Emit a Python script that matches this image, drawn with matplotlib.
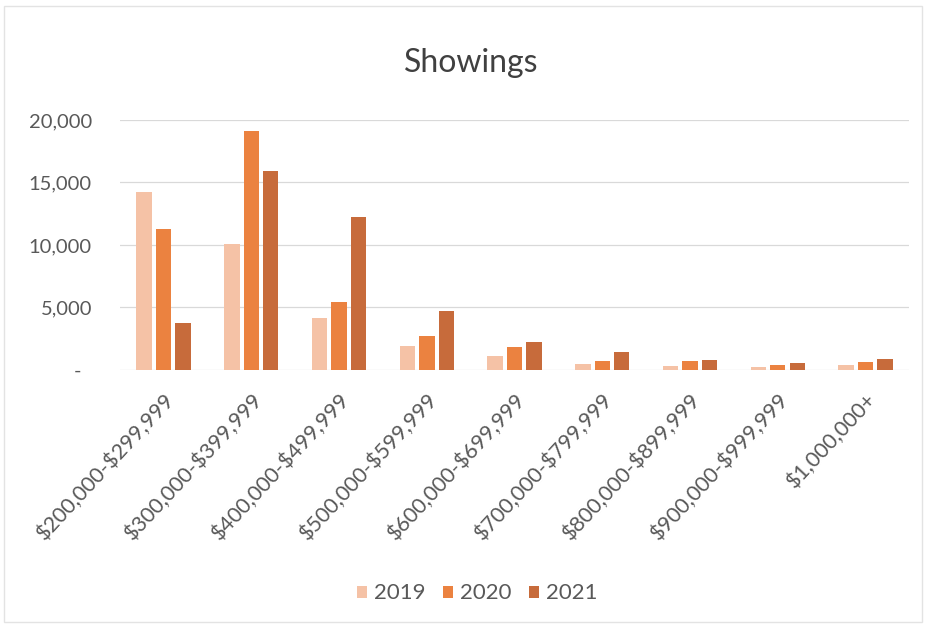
import numpy as np
import matplotlib.pyplot as plt
from matplotlib.ticker import FuncFormatter

# showings by price band and year
ranges = ['$200,000-$299,999', '$300,000-$399,999', '$400,000-$499,999',
          '$500,000-$599,999', '$600,000-$699,999', '$700,000-$799,999',
          '$800,000-$899,999', '$900,000-$999,999', '$1,000,000+']
showings_2019 = [14250, 10100, 4150, 1900, 1100, 500, 300, 200, 400]
showings_2020 = [11300, 19100, 5400, 2700, 1800, 700, 750, 400, 600]
showings_2021 = [3750, 15900, 12250, 4700, 2200, 1450, 800, 550, 900]
years = ['2019', '2020', '2021']
colors = ['#F5C2A6', '#EB8240', '#C76B3B']

plt.rcParams['font.family'] = ['Lato', 'DejaVu Sans']

fig = plt.figure(figsize=(9.28, 6.28), dpi=100)
ax = fig.add_axes([0.129, 0.411, 0.851, 0.398])

x = np.arange(len(ranges))
width = 0.175
step = 0.222
for i, (vals, yr) in enumerate(zip([showings_2019, showings_2020, showings_2021], years)):
    ax.bar(x + (i - 1) * step, vals, width, color=colors[i], label=yr, zorder=3)

ax.set_xlim(-0.5, len(ranges) - 0.5)
ax.set_ylim(0, 20000)
ax.set_yticks([0, 5000, 10000, 15000, 20000])
# accounting style: zero shows as a dash
ax.yaxis.set_major_formatter(FuncFormatter(lambda v, p: '-  ' if v == 0 else f'{int(v):,}'))
ax.grid(axis='y', color='#D9D9D9', linewidth=0.9, zorder=0)
for s in ax.spines.values():
    s.set_visible(False)
ax.tick_params(axis='both', length=0, colors='#595959')
ax.tick_params(axis='y', pad=20, labelsize=14.5)
ax.set_xticks(x)
# escape the dollar signs so they are not read as mathtext
ax.set_xticklabels([r.replace('$', r'\$') for r in ranges],
                   rotation=47, ha='right', rotation_mode='anchor')
ax.tick_params(axis='x', pad=14, labelsize=15.5)

fig.text(0.508, 0.9, 'Showings', ha='center', va='center', fontsize=23, color='#404040')

ax.legend(loc='center', bbox_to_anchor=(0.514, 0.055), bbox_transform=fig.transFigure,
          ncol=3, frameon=False, fontsize=16, labelcolor='#595959',
          handlelength=0.45, handleheight=0.45, handletextpad=0.3, columnspacing=0.8)

# thin frame around the chart area
fig.patches.append(plt.Rectangle((0.004, 0.01), 0.99, 0.98, transform=fig.transFigure,
                                 fill=False, edgecolor='#E3E3E3', linewidth=1))

fig.savefig('out.png', dpi=100)
